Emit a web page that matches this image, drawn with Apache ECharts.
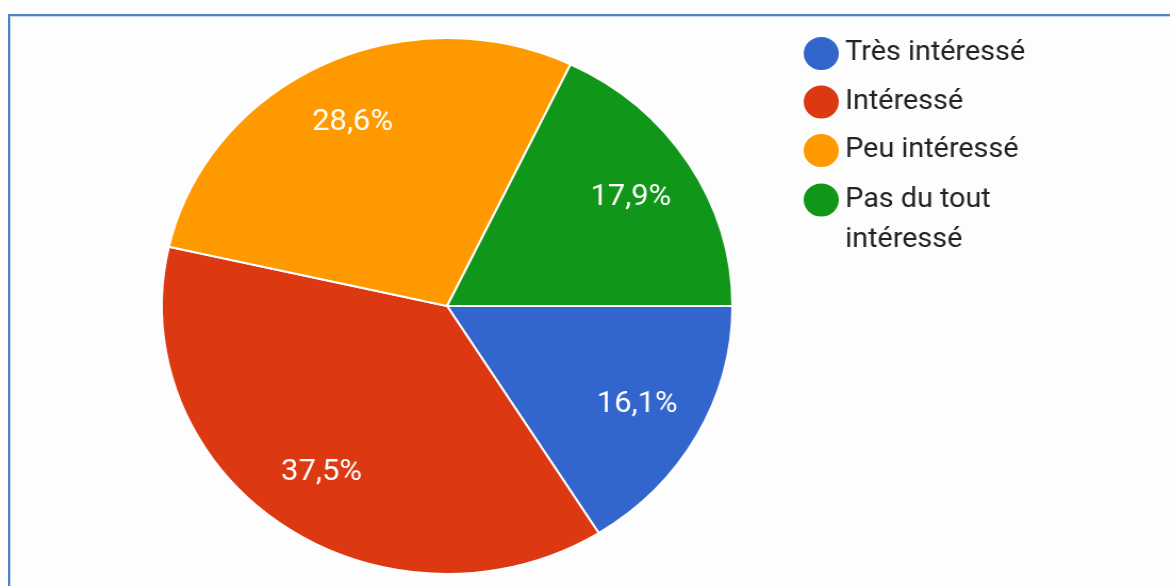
<!DOCTYPE html>
<html>
<head>
<meta charset="utf-8">
<script src="https://cdn.jsdelivr.net/npm/echarts@6/dist/echarts.min.js"></script>
<style>
  html, body { margin: 0; padding: 0; background: #ffffff; }
  #frame { position: relative; width: 1170px; height: 586px; overflow: hidden; background: #fdfdfd; }
  #edge { position: absolute; left: 8px; top: 14px; right: -4px; bottom: -4px;
          border-top: 2px solid #4f84c9; border-left: 2px solid #4f84c9; }
  #edge::after { content: ''; position: absolute; left: 0; top: 0; right: 0; bottom: 0;
          border-top: 1px solid #c9d7ea; border-left: 1px solid #c9d7ea; }
  #chart { position: absolute; left: 0; top: 0; width: 1100px; height: 586px;
           transform: scaleX(1.0645); transform-origin: 0 0; }
</style>
</head>
<body>
<div id="frame">
  <div id="edge"></div>
  <div id="chart"></div>
</div>
<script>
// Survey answers and their share of responses (%)
const categories = ['Très intéressé', 'Intéressé', 'Peu intéressé', 'Pas du tout intéressé'];
const shares = [16.1, 37.5, 28.6, 17.9];
const colors = ['#3366cc', '#dc3912', '#ff9900', '#109618'];

const slices = categories.map((name, i) => ({ name: name, value: shares[i] }));
const fmt = p => p.value.toFixed(1).replace('.', ',') + '%';

const legendText = {
  fontFamily: 'Roboto',
  fontSize: 27,
  color: '#222222',
  lineHeight: 45,
  width: 220,
  overflow: 'break'
};
const legendBase = {
  orient: 'vertical',
  left: 748,
  itemWidth: 35,
  itemHeight: 35,
  itemGap: 3.5,
  symbolKeepAspect: false,
  icon: 'path://M1 0A1 1 0 1 1 1 2A1 1 0 1 1 1 0Z',
  selectedMode: false
};

const chart = echarts.init(document.getElementById('chart'), null, { renderer: 'canvas' });
chart.setOption({
  animation: false,
  color: colors,
  legend: [
    Object.assign({}, legendBase, {
      top: 26,
      textStyle: legendText,
      data: categories.slice(0, 3)
    }),
    // the last answer wraps onto two lines; a blank first line keeps
    // its marker level with "Pas du tout"
    Object.assign({}, legendBase, {
      top: 135,
      textStyle: Object.assign({}, legendText, { lineHeight: 40 }),
      formatter: name => '\n' + name,
      data: categories.slice(3)
    })
  ],
  series: [
    {
      // filled wedges
      type: 'pie',
      center: [420, 306],
      radius: [0, 268],
      startAngle: 0,
      clockwise: true,
      silent: true,
      label: { show: false },
      labelLine: { show: false },
      itemStyle: { borderColor: '#ffffff', borderWidth: 2 },
      emphasis: { disabled: true },
      data: slices
    },
    {
      // percentage labels, set three quarters of the way out
      type: 'pie',
      center: [420, 306],
      radius: [134, 268],
      startAngle: 0,
      clockwise: true,
      silent: true,
      itemStyle: { color: 'rgba(0,0,0,0)', borderWidth: 0 },
      emphasis: { disabled: true },
      labelLine: { show: false },
      label: {
        show: true,
        position: 'inside',
        formatter: fmt,
        fontFamily: 'Roboto',
        fontSize: 29,
        color: '#ffffff',
        padding: [10, 0, 0, 0]
      },
      data: slices
    }
  ]
});
</script>
</body>
</html>
